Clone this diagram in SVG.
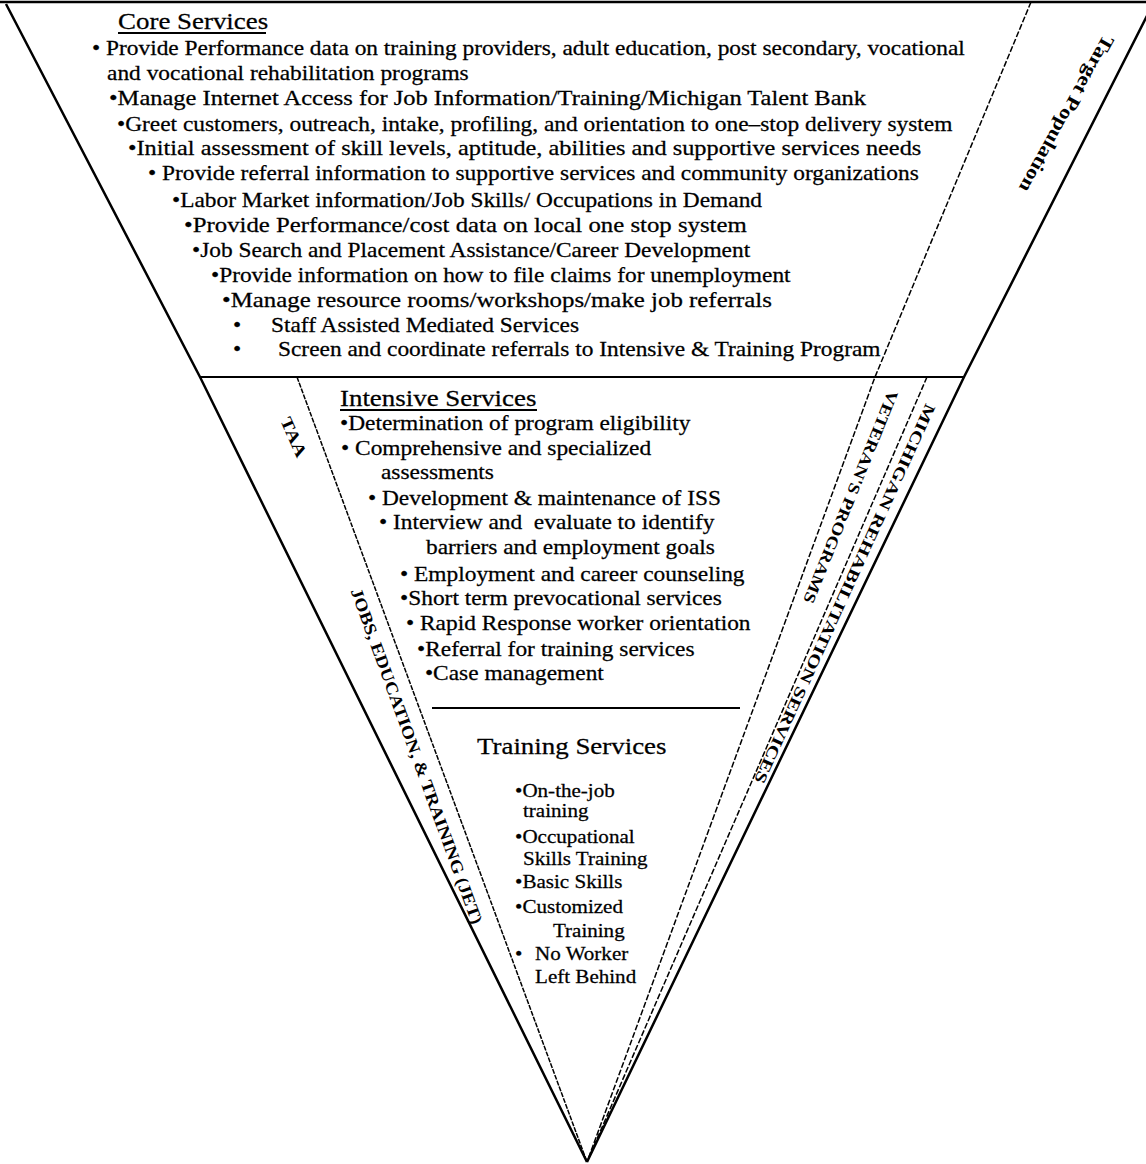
<svg xmlns="http://www.w3.org/2000/svg" width="1146" height="1164" viewBox="0 0 1146 1164">
<style>
.t{font-family:"Liberation Serif","Times New Roman",serif;font-size:20px;fill:#000;stroke:#000;stroke-width:0.25}
.h{font-size:23px}
.s{font-size:18px}
.lab{font-family:"Liberation Serif","Times New Roman",serif;font-weight:bold;fill:#000;text-anchor:middle}
.edge{stroke:#000;stroke-width:2.5;fill:none;stroke-linejoin:round}
.div{stroke:#000;stroke-width:1.8;fill:none}
.dash{stroke:#000;stroke-width:1.5;fill:none;stroke-dasharray:6 2}
.fine{stroke:#000;stroke-width:1.5;fill:none;stroke-dasharray:5 1.2}
.ul{stroke:#000;stroke-width:1.8}
</style>
<rect width="1146" height="1164" fill="#fff"/>
<g id="connectors">
  <line class="edge" x1="0" y1="2" x2="1146" y2="2"/>
  <polyline class="edge" points="6,4 200,377 587,1162"/>
  <polyline class="edge" points="1154,2 964,377 587,1162"/>
  <line class="div" x1="200" y1="377" x2="964" y2="377"/>
  <line class="fine" x1="297" y1="377" x2="587" y2="1162"/>
  <polyline class="dash" points="1031,2 875,377 587,1162"/>
  <line class="dash" x1="927" y1="377" x2="587" y2="1162"/>
  <line class="div" x1="432" y1="708" x2="740" y2="708"/>
</g>
<g id="core-services">
  <line class="ul" x1="118" y1="33" x2="266" y2="33"/>
  <g transform="scale(1.17,1)">
    <text class="t h" x="100.9" y="29">Core Services</text>
    <text class="t" x="78.6" y="55">• Provide Performance data on training providers, adult education, post secondary, vocational</text>
    <text class="t" x="91.5" y="80">and vocational rehabilitation programs</text>
    <text class="t" x="93.2" y="105" textLength="647" lengthAdjust="spacingAndGlyphs">•Manage Internet Access for Job Information/Training/Michigan Talent Bank</text>
    <text class="t" x="100" y="131">•Greet customers, outreach, intake, profiling, and orientation to one–stop delivery system</text>
    <text class="t" x="109.4" y="155" textLength="678" lengthAdjust="spacingAndGlyphs">•Initial assessment of skill levels, aptitude, abilities and supportive services needs</text>
    <text class="t" x="126.5" y="180">• Provide referral information to supportive services and community organizations</text>
    <text class="t" x="147" y="207">•Labor Market information/Job Skills/ Occupations in Demand</text>
    <text class="t" x="157.3" y="232" textLength="481" lengthAdjust="spacingAndGlyphs">•Provide Performance/cost data on local one stop system</text>
    <text class="t" x="164.1" y="257">•Job Search and Placement Assistance/Career Development</text>
    <text class="t" x="180.3" y="282">•Provide information on how to file claims for unemployment</text>
    <text class="t" x="189.7" y="307" textLength="470" lengthAdjust="spacingAndGlyphs">•Manage resource rooms/workshops/make job referrals</text>
    <text class="t" x="199.1" y="332">•<tspan x="231.6">Staff Assisted Mediated Services</tspan></text>
    <text class="t" x="199.1" y="356">•<tspan x="237.6">Screen and coordinate referrals to Intensive &amp; Training Program</tspan></text>
  </g>
</g>
<g id="intensive-services">
  <line class="ul" x1="340" y1="410" x2="537" y2="410"/>
  <g transform="scale(1.17,1)">
    <text class="t h" x="290.6" y="406">Intensive Services</text>
    <text class="t" x="290.6" y="430">•Determination of program eligibility</text>
    <text class="t" x="291.5" y="455">• Comprehensive and specialized</text>
    <text class="t" x="325.6" y="479">assessments</text>
    <text class="t" x="314.5" y="505">• Development &amp; maintenance of ISS</text>
    <text class="t" x="323.9" y="529">• Interview and&#160; evaluate to identify</text>
    <text class="t" x="364.1" y="554">barriers and employment goals</text>
    <text class="t" x="341.9" y="581">• Employment and career counseling</text>
    <text class="t" x="341.9" y="605">•Short term prevocational services</text>
    <text class="t" x="347" y="630">• Rapid Response worker orientation</text>
    <text class="t" x="356.4" y="656">•Referral for training services</text>
    <text class="t" x="363.2" y="680">•Case management</text>
  </g>
</g>
<g id="training-services">
  <g transform="scale(1.17,1)">
    <text class="t h" x="407.7" y="754">Training Services</text>
    <text class="t s" x="440.2" y="797">•On-the-job</text>
    <text class="t s" x="447" y="817">training</text>
    <text class="t s" x="440.2" y="843">•Occupational</text>
    <text class="t s" x="447" y="865">Skills Training</text>
    <text class="t s" x="440.2" y="888">•Basic Skills</text>
    <text class="t s" x="440.2" y="913">•Customized</text>
    <text class="t s" x="472.6" y="937">Training</text>
    <text class="t s" x="440.2" y="960">•<tspan x="457.3">No Worker</tspan></text>
    <text class="t s" x="457.3" y="983">Left Behind</text>
  </g>
</g>
<g id="target-population">
  <text class="lab" font-size="19" transform="translate(1067,114) rotate(119)" dy="0.35em" textLength="176" lengthAdjust="spacingAndGlyphs">Target Population</text>
</g>
<g id="taa">
  <text class="lab" font-size="17" transform="translate(294,437) rotate(66)" dy="0.35em" textLength="42" lengthAdjust="spacingAndGlyphs">TAA</text>
</g>
<g id="jet">
  <text class="lab" font-size="17" transform="translate(417,756) rotate(70)" dy="0.35em" textLength="356" lengthAdjust="spacingAndGlyphs">JOBS, EDUCATION, &amp; TRAINING (JET)</text>
</g>
<g id="veterans-programs">
  <text class="lab" font-size="16" transform="translate(851,497) rotate(112)" dy="0.35em" textLength="228" lengthAdjust="spacingAndGlyphs">VETERAN'S PROGRAMS</text>
</g>
<g id="michigan-rehabilitation">
  <text class="lab" font-size="16" transform="translate(845,594) rotate(114.5)" dy="0.35em" textLength="415" lengthAdjust="spacingAndGlyphs">MICHIGAN REHABILITATION SERVICES</text>
</g>
</svg>
